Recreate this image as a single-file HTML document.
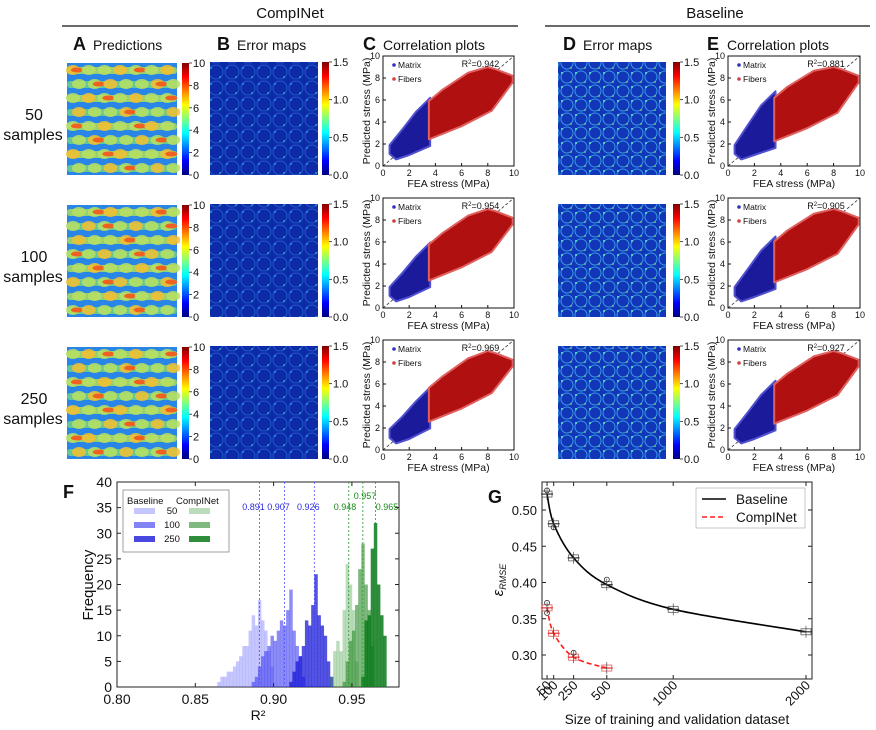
<!DOCTYPE html>
<html><head><meta charset="utf-8"><style>
html,body{margin:0;padding:0;background:#fff;}
svg{display:block;font-family:"Liberation Sans",sans-serif;}
</style></head><body>
<svg id="fig" width="876" height="730" viewBox="0 0 876 730" xmlns="http://www.w3.org/2000/svg">
<defs>
<linearGradient id="jet" x1="0" y1="1" x2="0" y2="0">
<stop offset="0" stop-color="#00007f"/><stop offset="0.125" stop-color="#0000ff"/><stop offset="0.375" stop-color="#00ffff"/><stop offset="0.625" stop-color="#ffff00"/><stop offset="0.875" stop-color="#ff0000"/><stop offset="1" stop-color="#7f0000"/>
</linearGradient>
<pattern id="errpat" width="16" height="16" patternUnits="userSpaceOnUse">
<rect width="16" height="16" fill="#0d2aa8"/>
<circle cx="8" cy="8" r="7" fill="none" stroke="#2f7fe0" stroke-width="0.8" opacity="0.7"/>
<circle cx="3" cy="4" r="0.8" fill="#30d0f0"/><circle cx="12" cy="13" r="0.7" fill="#50e0c0"/>
</pattern>
<pattern id="errpat2" width="14" height="14" patternUnits="userSpaceOnUse">
<rect width="14" height="14" fill="#1236b8"/>
<circle cx="7" cy="7" r="6" fill="none" stroke="#40b0f0" stroke-width="1" opacity="0.8"/>
<circle cx="2" cy="3" r="1" fill="#60f0c0"/><circle cx="11" cy="12" r="0.8" fill="#a0f060"/>
</pattern>
</defs>
<g id="root"></g>
</svg>
<script>
// ---- data: histogram (panel F) ----
const histBinWidth = 0.0022;
const b50Bins = [0.864,0.866,0.868,0.870,0.872,0.874,0.876,0.878,0.880,0.882,0.884,0.886,0.888,0.890,0.892,0.894,0.896,0.898];
const b50Counts = [1,2,2,3,3,4,5,6,8,8,11,14,12,17,13,11,7,4];
const b100Bins = [0.886,0.888,0.890,0.892,0.894,0.896,0.898,0.900,0.902,0.904,0.906,0.908,0.910,0.912,0.914,0.916,0.918];
const b100Counts = [1,2,4,6,7,8,10,9,11,13,12,15,19,11,8,6,2];
const b250Bins = [0.910,0.912,0.914,0.916,0.918,0.920,0.922,0.924,0.926,0.928,0.930,0.932,0.934,0.936];
const b250Counts = [1,3,5,6,8,13,12,16,22,14,12,10,5,2];
const c50Bins = [0.936,0.938,0.940,0.942,0.944,0.946,0.948,0.950,0.952];
const c50Counts = [2,7,9,7,15,24,20,15,5];
const c100Bins = [0.944,0.946,0.948,0.950,0.952,0.954,0.956,0.958,0.960,0.962];
const c100Counts = [1,5,9,11,16,23,28,20,15,8];
const c250Bins = [0.956,0.958,0.960,0.962,0.964,0.966,0.968,0.970];
const c250Counts = [2,13,14,27,32,20,14,10];
const baselineMeans = [0.891,0.907,0.926];
const complnetMeans = [0.948,0.957,0.965];
const fYTicks = [0,5,10,15,20,25,30,35,40];
const fXTicks = ["0.80","0.85","0.90","0.95"];
// ---- data: panel G ----
const gSizesBase = [50,100,250,500,1000,2000];
const gBase = [0.522,0.481,0.434,0.397,0.363,0.332];
const gSizesComp = [50,100,250,500];
const gComp = [0.365,0.330,0.297,0.282];
const gBaseOutliers = [[50,0.527],[100,0.476],[500,0.404]];
const gCompOutliers = [[50,0.372],[50,0.358],[250,0.303]];
const gYTicks = ["0.30","0.35","0.40","0.45","0.50"];
const gXTicks = [50,100,250,500,1000,2000];
// ---- data: correlation plots ----
const r2Comp = ["0.942","0.954","0.969"];
const r2Base = ["0.881","0.905","0.927"];
const scatterTicks = [0,2,4,6,8,10];

const NS = "http://www.w3.org/2000/svg";
const root = document.getElementById('root');
function mk(tag, attrs, parent){
  const e = document.createElementNS(NS, tag);
  for (const k in attrs) e.setAttribute(k, attrs[k]);
  (parent||root).appendChild(e);
  return e;
}
function txt(s, x, y, size, name, extra){
  const a = {x:x, y:y, 'font-size':size, fill:'#111'};
  for (const k in (extra||{})) a[k]=extra[k];
  const t = mk('text', a);
  t.textContent = s;
  
  
  return t;
}

// headers
txt("CompINet", 290, 18, 15, "complnet-header", {'text-anchor':'middle'});
txt("Baseline", 715, 18, 15, "baseline-header", {'text-anchor':'middle'});
let hl = mk('line',{x1:62,y1:26,x2:518,y2:26,stroke:'#111','stroke-width':1.3});


hl = mk('line',{x1:545,y1:26,x2:870,y2:26,stroke:'#111','stroke-width':1.3});



const panelTitles = [["A","Predictions",73],["B","Error maps",217],["C","Correlation plots",363],["D","Error maps",563],["E","Correlation plots",707]];
panelTitles.forEach(p=>{
  txt(p[0], p[2], 50, 18, "panel-letter-"+p[0].toLowerCase(), {'font-weight':'bold'});
  txt(p[1], p[2]+20, 50, 14, "panel-title-"+p[0].toLowerCase());
});

const rowLabels = ["50","100","250"];
const rowOff = [0,142,284];

function colorbar(x, y, h, labels, name){
  const r = mk('rect',{x:x,y:y,width:7,height:h,fill:'url(#jet)'});
  
  
  labels.forEach((l,i)=>{
    const yy = y + h - i*h/(labels.length-1);
    mk('line',{x1:x+7,y1:yy,x2:x+10,y2:yy,stroke:'#222','stroke-width':0.8});
    txt(l, x+11, yy+4, 11, name+"-tick");
  });
}

function predictionImage(x, y, w, h, seed){
  const g = mk('g',{});
  
  
  mk('rect',{x:x,y:y,width:w,height:h,fill:'#2a86e6'},g);
  for(let r=0;r<8;r++){
    const cy = y+6+r*h/8;
    mk('rect',{x:x,y:cy-2,width:w,height:7,rx:3,fill:(r%2?'#6fd08a':'#a6dc60'),opacity:0.85},g);
    for(let c=0;c<7;c++){
      const cx = x+6+c*w/7+((r+seed)%2)*6;
      mk('ellipse',{cx:cx,cy:cy+1,rx:7,ry:5,fill:(c+r+seed)%3==0?'#f5c030':'#b8e060',opacity:0.85},g);
      if((c*3+r+seed)%4==0) mk('ellipse',{cx:cx+4,cy:cy+1,rx:6,ry:2.5,fill:'#f06020'},g);
    }
  }
}
function errorImage(x, y, w, h, pat, name){
  const g = mk('g',{});
  
  
  mk('rect',{x:x,y:y,width:w,height:h,fill:'url(#'+pat+')'},g);
}

function scatter(x0, y0, w, h, r2, spread, name){
  const g = mk('g',{});
  
  
  const sx = v => x0 + v/10*w, sy = v => y0 + h - v/10*h;
  mk('rect',{x:x0,y:y0,width:w,height:h,fill:'#fff',stroke:'#111','stroke-width':1},g);
  mk('line',{x1:sx(0),y1:sy(0),x2:sx(10),y2:sy(10),stroke:'#333','stroke-dasharray':'3,2','stroke-width':0.8},g);
  const s = spread;
  const blue = [[0.5,1.1],[1.0,0.6],[2,1.0],[3.6,2.0-s*0.3],[3.6,5.6+s],[2.5,4.3+s],[1.5,3.0+s*0.6],[0.5,1.9]];
  const red = [[3.5,2.6-s*0.3],[6,3.8-s*0.3],[8.3,5.2-s*0.3],[9.9,7.6],[9.9,8.2],[8.6,8.8],[8,9.0],[6.5,8.3+s*0.3],[4.5,6.6+s*0.5],[3.5,5.6+s*0.5]];
  const bp = mk('polygon',{points:blue.map(p=>sx(p[0])+','+sy(p[1])).join(' '),fill:'#1a1a9a',stroke:'#5050d0','stroke-width':2,'stroke-linejoin':'round'},g);
  
  
  const rp = mk('polygon',{points:red.map(p=>sx(p[0])+','+sy(p[1])).join(' '),fill:'#b01010',stroke:'#e06060','stroke-width':2,'stroke-linejoin':'round'},g);
  
  
  scatterTicks.forEach(t=>{
    mk('line',{x1:sx(t),y1:y0+h,x2:sx(t),y2:y0+h-3,stroke:'#111'},g);
    mk('line',{x1:x0,y1:sy(t),x2:x0+3,y2:sy(t),stroke:'#111'},g);
    txt(String(t), sx(t), y0+h+10, 9, 'x-tick', {'text-anchor':'middle'});
    txt(String(t), x0-3, sy(t)+3, 9, 'y-tick', {'text-anchor':'end'});
  });
  mk('circle',{cx:x0+11,cy:y0+9,r:1.8,fill:'#3030c0'},g);
  txt("Matrix", x0+15, y0+12, 8.5, 'legend-matrix');
  mk('circle',{cx:x0+11,cy:y0+23,r:1.8,fill:'#d04040'},g);
  txt("Fibers", x0+15, y0+26, 8.5, 'legend-fibers');
  const rt = txt("R", x0+w*0.6, y0+11, 9, 'r2-label');
  rt.innerHTML = 'R<tspan dy="-3" font-size="6">2</tspan><tspan dy="3">='+r2+'</tspan>';
  txt("FEA stress (MPa)", x0+w/2, y0+h+21, 10.5, 'x-axis-title', {'text-anchor':'middle'});
  txt("Predicted stress (MPa)", 0, 0, 10.5, 'y-axis-title', {'text-anchor':'middle', transform:'translate('+(x0-13)+','+(y0+h/2)+') rotate(-90)'});
}

rowOff.forEach((o,i)=>{
  txt(rowLabels[i], 34, 120+o, 16, 'row-label-'+rowLabels[i], {'text-anchor':'middle'});
  txt("samples", 33, 140+o, 16, 'row-label-samples', {'text-anchor':'middle'});
  predictionImage(67, 63+o, 110, 112, i);
  colorbar(182, 63+o, 112, ["0","2","4","6","8","10"], 'prediction-colorbar');
  errorImage(210, 62+o, 108, 113, 'errpat', 'complnet-error-map');
  colorbar(322, 62+o, 113, ["0.0","0.5","1.0","1.5"], 'complnet-error-colorbar');
  scatter(383, 56+o, 131, 110, r2Comp[i], [0.6,0.35,0.1][i], 'complnet-correlation-plot');
  errorImage(558, 62+o, 108, 113, 'errpat2', 'baseline-error-map');
  colorbar(673, 62+o, 113, ["0.0","0.5","1.0","1.5"], 'baseline-error-colorbar');
  scatter(728, 56+o, 132, 110, r2Base[i], [1.2,0.9,0.7][i], 'baseline-correlation-plot');
});

// ---- Panel F ----
const fx = v => 117 + (v-0.80)/0.05*78.3;
const fy = c => 687 - c*(205/40);
txt("F", 63, 498, 18, 'panel-letter-f', {'font-weight':'bold'});
mk('rect',{x:117,y:482,width:282,height:205,fill:'#fff',stroke:'#222','stroke-width':1});
function hist(bins, counts, color, alpha, name){
  bins.forEach((b,i)=>{
    const r = mk('rect',{x:fx(b),y:fy(counts[i]),width:fx(b+histBinWidth)-fx(b),height:fy(0)-fy(counts[i]),fill:color,'fill-opacity':alpha});
    
    
  });
}
hist(b50Bins,b50Counts,'#7070ff',0.4,'hist-baseline-50');
hist(b100Bins,b100Counts,'#4040f0',0.6,'hist-baseline-100');
hist(b250Bins,b250Counts,'#1a1ad8',0.75,'hist-baseline-250');
hist(c50Bins,c50Counts,'#3a9a3a',0.35,'hist-complnet-50');
hist(c100Bins,c100Counts,'#2a8a2a',0.6,'hist-complnet-100');
hist(c250Bins,c250Counts,'#0a7a1a',0.85,'hist-complnet-250');
baselineMeans.forEach(m=>{
  const l = mk('line',{x1:fx(m),y1:482,x2:fx(m),y2:687,stroke:'#5050ff','stroke-dasharray':'2,2','stroke-width':0.8});
  
  
  txt(m.toFixed(3), fx(m)-6, 510, 9, 'baseline-mean-label', {'text-anchor':'middle', fill:'#2a2ae0'});
});
const compLabelX = [345,365,387];
const compLabelY = [510,499,510];
complnetMeans.forEach((m,i)=>{
  const l = mk('line',{x1:fx(m),y1:482,x2:fx(m),y2:687,stroke:'#2a9a2a','stroke-dasharray':'2,2','stroke-width':0.8});
  
  
  txt(m.toFixed(3), compLabelX[i], compLabelY[i], 9, 'complnet-mean-label', {'text-anchor':'middle', fill:'#1a8a1a'});
});
fYTicks.forEach(t=>{
  mk('line',{x1:117,y1:fy(t),x2:121,y2:fy(t),stroke:'#222'});
  mk('line',{x1:399,y1:fy(t),x2:395,y2:fy(t),stroke:'#222'});
  txt(String(t), 112, fy(t)+5, 14, 'f-y-tick', {'text-anchor':'end'});
});
fXTicks.forEach(t=>{
  const v = parseFloat(t);
  mk('line',{x1:fx(v),y1:687,x2:fx(v),y2:683,stroke:'#222'});
  mk('line',{x1:fx(v),y1:482,x2:fx(v),y2:486,stroke:'#222'});
  txt(t, fx(v), 704, 14, 'f-x-tick', {'text-anchor':'middle'});
});
txt("R²", 258, 720, 14, 'f-x-axis-title', {'text-anchor':'middle'});
txt("Frequency", 0, 0, 15, 'f-y-axis-title', {'text-anchor':'middle', transform:'translate(93,585) rotate(-90)'});
const lg = mk('rect',{x:123,y:490,width:106,height:62,fill:'#fff',stroke:'#888','stroke-width':0.8});


txt("Baseline", 127, 504, 9.5, 'f-legend-baseline');
txt("CompINet", 176, 504, 9.5, 'f-legend-complnet');
[["50",'#7070ff',0.4,'#3a9a3a',0.35],["100",'#4040f0',0.65,'#2a8a2a',0.6],["250",'#1a1ad8',0.8,'#0a7a1a',0.85]].forEach((e,i)=>{
  const yy = 513+i*14;
  mk('rect',{x:134,y:yy-5,width:21,height:6,fill:e[1],'fill-opacity':e[2]});
  txt(e[0], 172, yy+1, 9.5, 'f-legend-entry', {'text-anchor':'middle'});
  mk('rect',{x:189,y:yy-5,width:21,height:6,fill:e[3],'fill-opacity':e[4]});
});

// ---- Panel G ----
const gx = n => 540.4 + n*0.1328;
const gy = v => 510 + (0.50 - v)*725;
txt("G", 488, 503, 18, 'panel-letter-g', {'font-weight':'bold'});
mk('rect',{x:542,y:482,width:270,height:197,fill:'#fff',stroke:'#222','stroke-width':1});
function smoothPath(xs, ys){
  const p = xs.map((x,i)=>[gx(x),gy(ys[i])]);
  let d = 'M'+p[0][0]+','+p[0][1];
  for(let i=0;i<p.length-1;i++){
    const p0=p[Math.max(0,i-1)],p1=p[i],p2=p[i+1],p3=p[Math.min(p.length-1,i+2)];
    const c1=[p1[0]+(p2[0]-p0[0])/6,p1[1]+(p2[1]-p0[1])/6];
    const c2=[p2[0]-(p3[0]-p1[0])/6,p2[1]-(p3[1]-p1[1])/6];
    d+=' C'+c1[0]+','+c1[1]+' '+c2[0]+','+c2[1]+' '+p2[0]+','+p2[1];
  }
  return d;
}
function boxes(xs, ys, color, name){
  xs.forEach((x,i)=>{
    const b = mk('rect',{x:gx(x)-5,y:gy(ys[i])-3,width:10,height:6,fill:'none',stroke:color,'stroke-width':0.8,opacity:0.8});
    
    
    mk('line',{x1:gx(x)-6,y1:gy(ys[i]),x2:gx(x)+6,y2:gy(ys[i]),stroke:color,'stroke-width':1.2});
    mk('line',{x1:gx(x),y1:gy(ys[i])-6,x2:gx(x),y2:gy(ys[i])+6,stroke:'#333','stroke-width':0.6});
  });
}
const bl = mk('path',{d:smoothPath(gSizesBase,gBase),fill:'none',stroke:'#000','stroke-width':1.6});


const cl = mk('path',{d:smoothPath(gSizesComp,gComp),fill:'none',stroke:'#ff1a1a','stroke-width':1.6,'stroke-dasharray':'5,3'});


boxes(gSizesBase,gBase,'#333','baseline-box');
boxes(gSizesComp,gComp,'#e03030','complnet-box');
gBaseOutliers.concat(gCompOutliers).forEach(o=>{
  const c = mk('circle',{cx:gx(o[0]),cy:gy(o[1]),r:2.5,fill:'none',stroke:'#333','stroke-width':0.8});
  
  
});
gYTicks.forEach(t=>{
  const v = parseFloat(t);
  mk('line',{x1:542,y1:gy(v),x2:546,y2:gy(v),stroke:'#222'});
  mk('line',{x1:812,y1:gy(v),x2:808,y2:gy(v),stroke:'#222'});
  txt(t, 537, gy(v)+5, 13, 'g-y-tick', {'text-anchor':'end'});
});
gXTicks.forEach(t=>{
  mk('line',{x1:gx(t),y1:679,x2:gx(t),y2:675,stroke:'#222'});
  mk('line',{x1:gx(t),y1:482,x2:gx(t),y2:486,stroke:'#222'});
  txt(String(t), 0, 0, 13, 'g-x-tick', {'text-anchor':'end', transform:'translate('+(gx(t)+5)+',686) rotate(-45)'});
});
txt("Size of training and validation dataset", 677, 724, 13.5, 'g-x-axis-title', {'text-anchor':'middle'});
const ylab = txt("ε", 0, 0, 15, 'g-y-axis-title', {'text-anchor':'middle', transform:'translate(503,580) rotate(-90)', 'font-style':'italic'});
ylab.innerHTML = 'ε<tspan font-size="9" dy="3">RMSE</tspan>';
const gl = mk('rect',{x:696,y:488,width:109,height:40,fill:'#fff',stroke:'#bbb','stroke-width':0.8});


mk('line',{x1:702,y1:499,x2:726,y2:499,stroke:'#000','stroke-width':1.6});
txt("Baseline", 736, 504, 13.5, 'g-legend-baseline');
mk('line',{x1:702,y1:517,x2:726,y2:517,stroke:'#ff1a1a','stroke-width':1.6,'stroke-dasharray':'5,3'});
txt("CompINet", 736, 522, 13.5, 'g-legend-complnet');
</script>
</body></html>
